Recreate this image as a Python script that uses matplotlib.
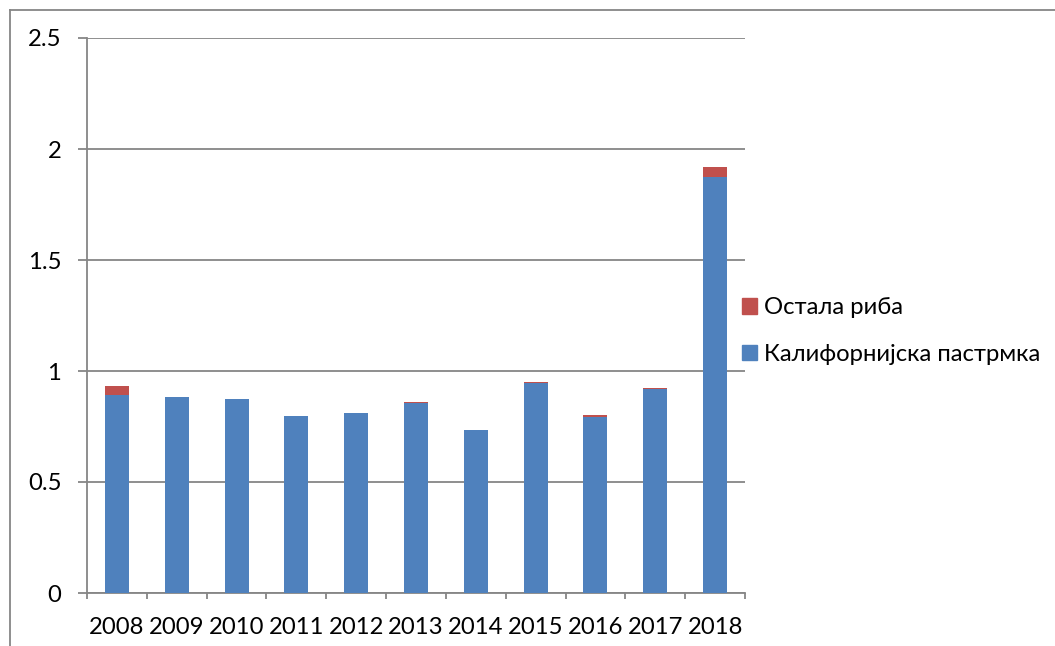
import matplotlib
matplotlib.use("Agg")
import matplotlib.pyplot as plt
from matplotlib.patches import Patch
from matplotlib.lines import Line2D
import numpy as np

years = ["2008", "2009", "2010", "2011", "2012", "2013", "2014", "2015", "2016", "2017", "2018"]
trout = [0.890, 0.881, 0.875, 0.799, 0.812, 0.855, 0.734, 0.946, 0.794, 0.918, 1.874]
other = [0.042, 0.000, 0.000, 0.000, 0.000, 0.004, 0.000, 0.004, 0.007, 0.005, 0.043]
yticks = [0, 0.5, 1, 1.5, 2, 2.5]
ytick_labels = ["0", "0.5", "1", "1.5", "2", "2.5"]
series_names = ["Калифорнијска пастрмка", "Остала риба"]

blue = "#4F81BD"
red = "#C0504D"
grid_c = "#868686"

plt.rcParams['font.family'] = ['Lato', 'DejaVu Sans']
FS = 17.2

W, H = 1055, 646
fig = plt.figure(figsize=(W / 100, H / 100), dpi=100)
ax = fig.add_axes([87 / W, 1 - 593 / H, (745 - 87) / W, (593 - 38) / H])

x = np.arange(len(years))
ax.bar(x, trout, width=0.4, color=blue, zorder=3)
ax.bar(x, other, width=0.4, bottom=trout, color=red, zorder=3)

ax.set_xlim(-0.5, len(years) - 0.5)
ax.set_ylim(0, 2.5)
ax.set_yticks(yticks)
ax.set_yticklabels(ytick_labels, fontsize=FS)
ax.set_xticks(x)
ax.set_xticklabels(years, fontsize=FS)
ax.set_xticks(np.arange(len(years) + 1) - 0.5, minor=True)

ax.tick_params(axis='x', which='major', length=0, pad=17)
ax.tick_params(axis='x', which='minor', length=4.3, color=grid_c, width=1.3, direction='out')
ax.tick_params(axis='y', which='major', length=6.5, color=grid_c, width=1.3, pad=12)

ax.yaxis.grid(True, color=grid_c, linewidth=1.3, zorder=0)
ax.set_axisbelow(True)
for s in ['top', 'right']:
    ax.spines[s].set_visible(False)
for s in ['left', 'bottom']:
    ax.spines[s].set_color(grid_c)
    ax.spines[s].set_linewidth(1.3)

handles = [Patch(facecolor=red, edgecolor=red), Patch(facecolor=blue, edgecolor=blue)]
labels = [series_names[1], series_names[0]]
fig.legend(handles, labels, loc='center left', bbox_to_anchor=(742 / W, 1 - 331 / H),
           frameon=False, fontsize=FS, handlelength=0.63, handleheight=0.63,
           handletextpad=0.3, labelspacing=1.07, borderpad=0, borderaxespad=0)

# outer frame (partial, cropped)
fig.add_artist(Line2D([9.5 / W, 9.5 / W], [0, 1 - 9.5 / H], transform=fig.transFigure,
                      color=grid_c, linewidth=1.3))
fig.add_artist(Line2D([9.5 / W, 1], [1 - 9.5 / H, 1 - 9.5 / H], transform=fig.transFigure,
                      color=grid_c, linewidth=1.3))

fig.savefig("out.png", dpi=100)
